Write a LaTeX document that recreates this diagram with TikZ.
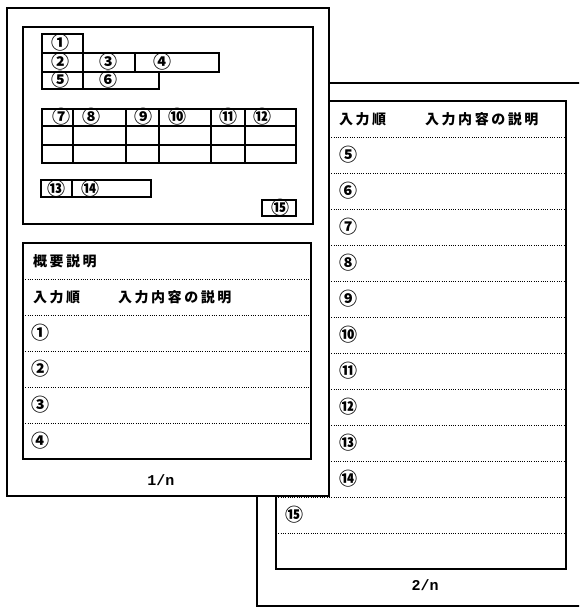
\documentclass[tikz,border=0pt]{standalone}
\usepackage{fontspec}
\newfontfamily\cjk{Noto Sans CJK JP}
\newfontfamily\cjkls{Noto Sans CJK JP}[LetterSpace=18]
\newfontfamily\monob{Liberation Mono}
\begin{document}
\begin{tikzpicture}[x=1pt,y=-1pt,
  frame/.style={draw=black, line width=1.2pt},
  pagebox/.style={draw=black, line width=1.2pt, fill=white},
  dotrow/.style={line width=1pt, dash pattern=on 1pt off 1.3pt},
  num/.style={font=\cjk\bfseries\fontsize{18}{18}\selectfont, inner sep=0pt},
  head/.style={font=\cjkls\bfseries\fontsize{14}{14}\selectfont, inner sep=0pt, anchor=west},
  pg/.style={font=\monob\bfseries\fontsize{15}{15}\selectfont, inner sep=0pt}]
\useasboundingbox (0,0) rectangle (579,608);
\clip (0,0) rectangle (579,608);
\fill[white] (0,0) rectangle (579,608);
% ---------- page 2 (behind) ----------
\draw[frame] (257,83) rectangle (600,606);
\draw[frame] (276,101) rectangle (566,569);
\foreach \k in {0,...,11} {
  \draw[dotrow] (276,137+36*\k) -- (566,137+36*\k);
}
\node[head] (p2h1) at (339,119) {入力順};
\node[head] (p2h2) at (425,119) {入力内容の説明};
\node[num] (p2n5)  at (348,155) {⑤};
\node[num] (p2n6)  at (348,191) {⑥};
\node[num] (p2n7)  at (348,227) {⑦};
\node[num] (p2n8)  at (348,263) {⑧};
\node[num] (p2n9)  at (348,299) {⑨};
\node[num] (p2n10) at (348,335) {⑩};
\node[num] (p2n11) at (348,371) {⑪};
\node[num] (p2n12) at (348,407) {⑫};
\node[num] (p2n13) at (348,443) {⑬};
\node[num] (p2n14) at (348,479) {⑭};
\node[num] (p2n15) at (294,515) {⑮};
\node[pg] (p2page) at (425,585) {2/n};
% ---------- page 1 (front) ----------
\draw[pagebox] (7,8) rectangle (329,496);
% screen layout box
\draw[frame] (23,27) rectangle (313,224);
\draw[frame] (42,34) rectangle (83,53);
\draw[frame] (42,53) rectangle (219,72);
\draw[frame] (83,53) -- (83,72);
\draw[frame] (135,53) -- (135,72);
\draw[frame] (42,72) rectangle (159,89);
\draw[frame] (83,72) -- (83,89);
\node[num] (s1) at (60,43) {①};
\node[num] (s2) at (60,62) {②};
\node[num] (s3) at (108,62) {③};
\node[num] (s4) at (162,62) {④};
\node[num] (s5) at (60,80) {⑤};
\node[num] (s6) at (108,80) {⑥};
% table
\draw[frame] (42,109) rectangle (296,163);
\draw[frame] (42,126) -- (296,126);
\draw[frame] (42,145) -- (296,145);
\foreach \xx in {73,126,159,211,245} {
  \draw[frame] (\xx,109) -- (\xx,163);
}
\node[num] (s7)  at (61,117) {⑦};
\node[num] (s8)  at (91,117) {⑧};
\node[num] (s9)  at (143,117) {⑨};
\node[num] (s10) at (177,117) {⑩};
\node[num] (s11) at (228,117) {⑪};
\node[num] (s12) at (262,117) {⑫};
% 13/14 box
\draw[frame] (41,180) rectangle (151,197);
\draw[frame] (72,180) -- (72,197);
\node[num] (s13) at (56,189) {⑬};
\node[num] (s14) at (90,189) {⑭};
% 15 box
\draw[frame] (262,200) rectangle (296,216);
\node[num] (s15) at (280,208) {⑮};
% description box
\draw[frame] (23,243) rectangle (311,459);
\foreach \yy in {279,315,351,387,423} {
  \draw[dotrow] (23,\yy) -- (311,\yy);
}
\node[head] (p1h0) at (33,261) {概要説明};
\node[head] (p1h1) at (33,297) {入力順};
\node[head] (p1h2) at (118,297) {入力内容の説明};
\node[num] (p1n1) at (40,333) {①};
\node[num] (p1n2) at (40,369) {②};
\node[num] (p1n3) at (40,405) {③};
\node[num] (p1n4) at (40,441) {④};
\node[pg] (p1page) at (161,480) {1/n};
\end{tikzpicture}
\end{document}
